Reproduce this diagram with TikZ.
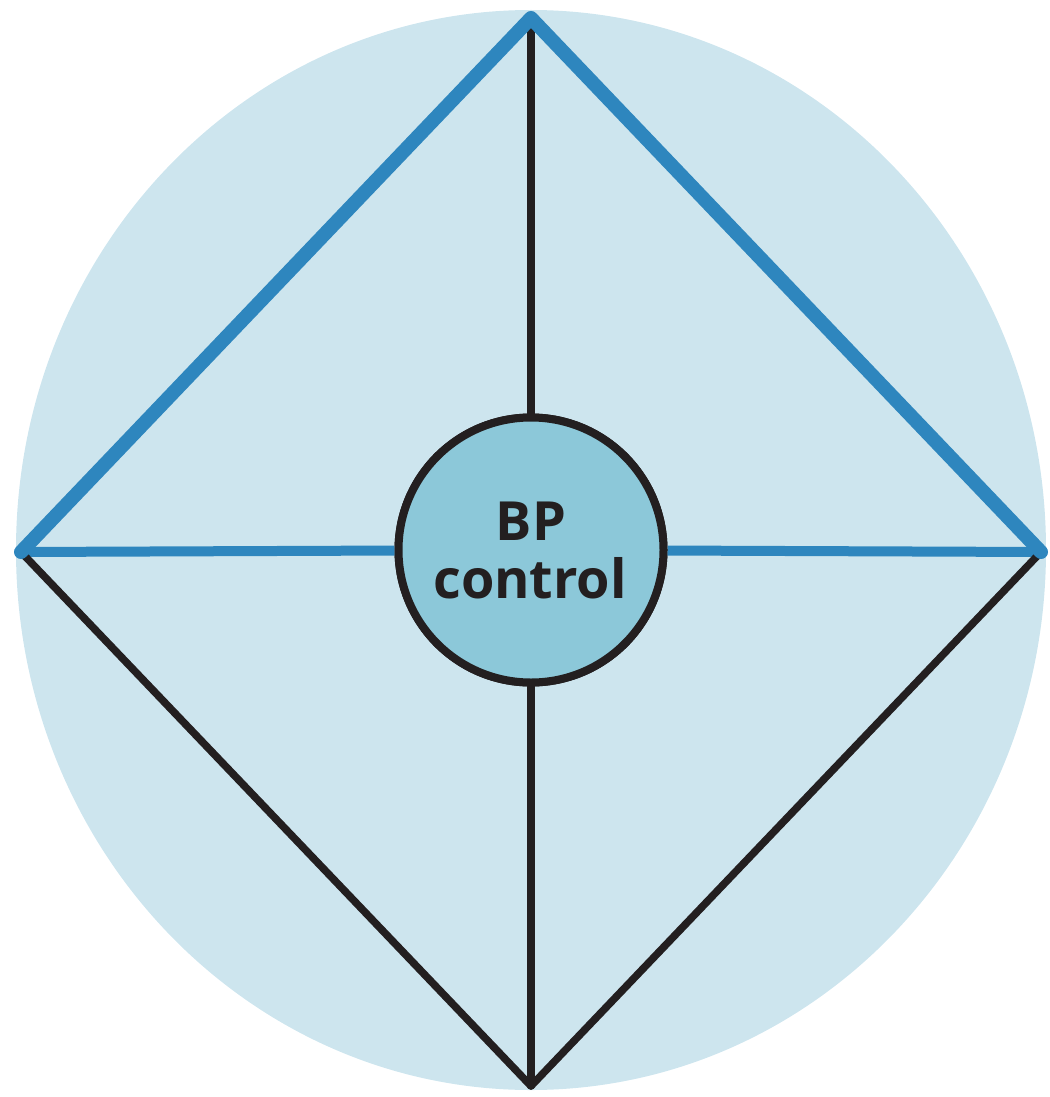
\documentclass[tikz,border=0pt]{standalone}
\usepackage{fontspec}
\setmainfont{Open Sans}
\definecolor{bgblue}{HTML}{CDE5EE}
\definecolor{midblue}{HTML}{8CC8D9}
\definecolor{lineblue}{HTML}{2E86BE}
\definecolor{darkline}{HTML}{231F20}
\begin{document}
\begin{tikzpicture}[x=1pt,y=-1pt,
  bluethick/.style={draw=lineblue,line width=14pt,line join=round,line cap=round},
  bluethin/.style={draw=lineblue,line width=10pt},
  blackline/.style={draw=darkline,line width=7.5pt,line join=round,line cap=round},
  centrebox/.style={circle,draw=darkline,line width=8pt,fill=midblue,minimum size=265pt,inner sep=0pt,
    font=\fontsize{54}{62}\selectfont\bfseries,text=darkline,align=center}]
\useasboundingbox (0,0) rectangle (1049,1097);
\fill[bgblue] (531,550) ellipse [x radius=515, y radius=540];
\coordinate (T) at (531,18);
\coordinate (B) at (531,1086);
\coordinate (L) at (21,552);
\coordinate (R) at (1041,552);
\node[centrebox] (C) at (531,550) {};
\draw[blackline] (T) -- (C);
\draw[blackline] (B) -- (C);
\draw[bluethin] (L) -- (C);
\draw[bluethin] (R) -- (C);
\draw[blackline] (L) -- (B) -- (R);
\draw[bluethick] (L) -- (T) -- (R);
\node[centrebox] (C2) at (C) {BP\\[-4pt]\kern-2pt control};
\end{tikzpicture}
\end{document}
